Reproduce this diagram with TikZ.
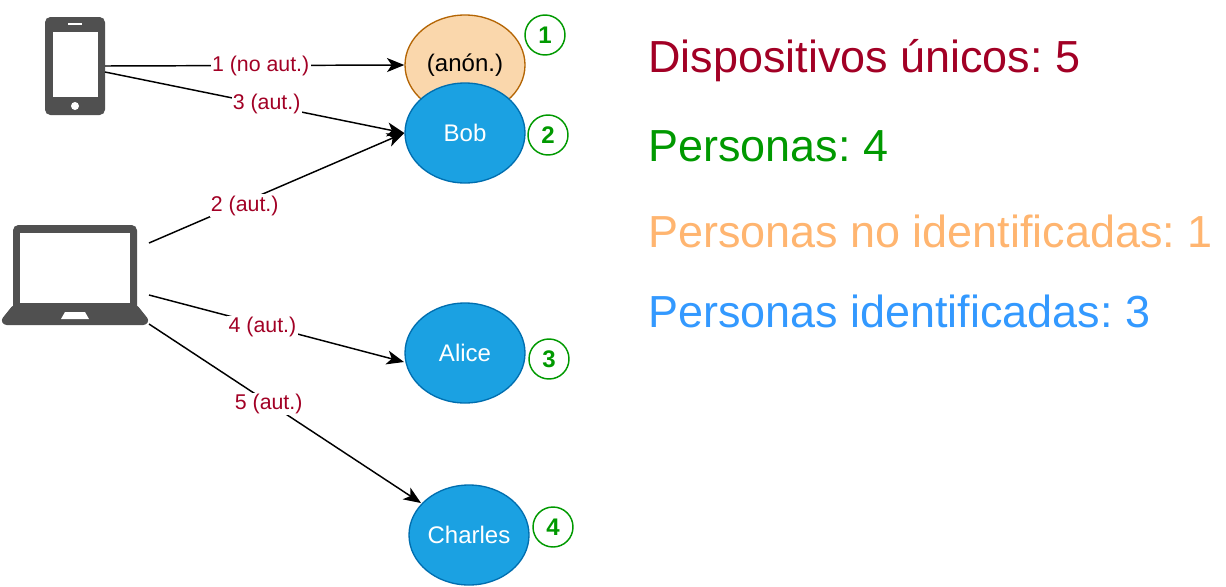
\documentclass[tikz,border=0pt]{standalone}
\usepackage{fontspec}
\setmainfont{Liberation Sans}
\usepackage{xcolor}
\usetikzlibrary{shapes.geometric, arrows.meta}
\definecolor{labelred}{HTML}{A20025}
\definecolor{numgreen}{HTML}{009900}
\definecolor{softorange}{HTML}{FFB570}
\definecolor{softblue}{HTML}{3399FF}
\definecolor{icongray}{HTML}{505050}
\tikzstyle{person} = [ellipse, minimum width=90pt, minimum height=75pt, inner sep=0pt, line width=1pt, text centered, font=\fontsize{18}{20}\selectfont]
\tikzstyle{known} = [person, draw={rgb,255:red,0;green,110;blue,175}, fill={rgb,255:red,27;green,161;blue,226}, text=white]
\tikzstyle{unknown} = [person, draw={rgb,255:red,180;green,101;blue,4}, fill={rgb,255:red,250;green,215;blue,172}]
\tikzstyle{badge} = [circle, minimum size=30pt, inner sep=0pt, line width=1.1pt, draw=numgreen, text=numgreen, font=\fontsize{18}{20}\selectfont\bfseries]
\tikzstyle{summary} = [anchor=base west, inner sep=0pt, font=\fontsize{33.7}{38}\selectfont]
\tikzstyle{arrow} = [line width=1.1pt,-{Stealth[length=13pt,width=10.5pt,inset=3.5pt]}]
\tikzstyle{tag} = [fill=white, text=labelred, inner sep=1pt, font=\fontsize{16}{18}\selectfont]
\tikzstyle{iconpart} = [fill=icongray, draw=none]
\begin{document}
\frenchspacing
\begin{tikzpicture}[x=0.75pt, y=-0.75pt]
\useasboundingbox (0,0) rectangle (1226,586);

% phone
\node (phone) [iconpart, rectangle, rounded corners=4pt, minimum width=45pt, minimum height=73.5pt, inner sep=0pt] at (75,66) {};
\fill [white] (52.5,32) rectangle (97.5,97);
\fill [white] (75,106) circle (4);
\fill [white] (68,23) rectangle (82,24.5);

% laptop
\node (laptop) [iconpart, rectangle, rounded corners=4pt, minimum width=93pt, minimum height=66pt, inner sep=0pt] at (75,269) {};
\fill [iconpart, rounded corners=2pt] (13,305) -- (137,305) -- (149,320) -- (146,325) -- (4,325) -- (1,320) -- cycle;
\fill [white] (20,233) rectangle (130,303);
\fill [white] (65,312) -- (85,312) -- (89,319) -- (61,319) -- cycle;

\coordinate (phoneA) at (105,66);
\coordinate (phoneB) at (105,72);
\coordinate (laptopA) at (149,243);
\coordinate (laptopB) at (149,295);
\coordinate (laptopC) at (149,324);
\coordinate (aliceIn) at (404,362);
\coordinate (charlesIn) at (421,503);

% people
\node (anon) [unknown] at (465,65) {(anón.)};
\node (bob) [known] at (465,133) {Bob};
\node (alice) [known] at (465,353) {Alice};
\node (charles) [known] at (469,535) {Charles};

\node (one) [badge] at (545,35) {1};
\node (two) [badge] at (548,135) {2};
\node (three) [badge] at (549,359) {3};
\node (four) [badge] at (553,527) {4};

\draw [arrow] (phoneA) -- node[tag, pos=0.52, yshift=-0.5pt]{1 (no aut.)} (anon.west);
\draw [arrow] (phoneB) -- node[tag, pos=0.54, yshift=1pt]{3 (aut.)} (bob.west);
\draw [arrow] (laptopA) -- node[tag, pos=0.375, yshift=-3pt]{2 (aut.)} (bob.west);
\draw [arrow] (laptopB) -- node[tag, pos=0.445, yshift=-1.5pt]{4 (aut.)} (aliceIn);
\draw [arrow] (laptopC) -- node[tag, pos=0.44, yshift=-1pt]{5 (aut.)} (charlesIn);

% totals
\node (devices) [summary, text=labelred] at (648,72.7) {Dispositivos únicos: 5};
\node (people) [summary, text=numgreen] at (648,161.7) {Personas: 4};
\node (anonpeople) [summary, text=softorange] at (648,247.7) {Personas no identificadas: 1};
\node (knownpeople) [summary, text=softblue] at (648,327.3) {Personas identificadas: 3};

\end{tikzpicture}
\end{document}
